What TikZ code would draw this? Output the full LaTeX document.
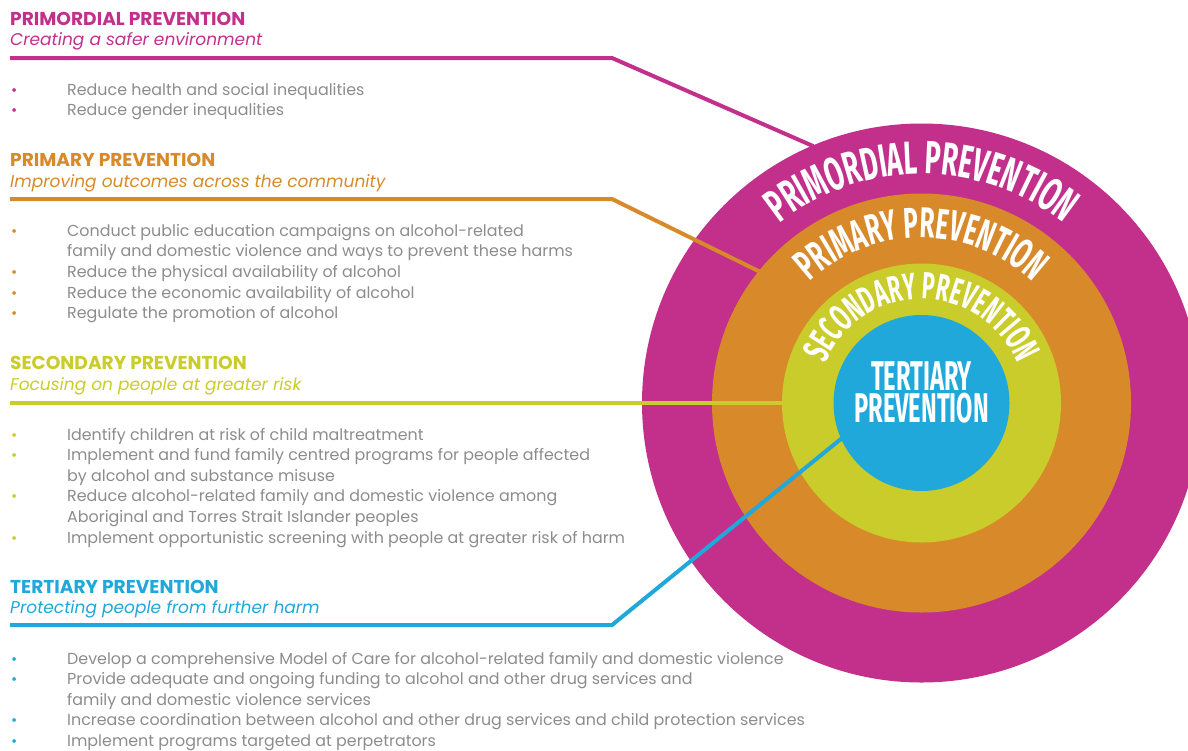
\documentclass[tikz,border=0pt]{standalone}
\usepackage{fontspec}
\setmainfont{Poppins}
\newfontfamily\ringfont[FakeStretch=0.57]{Fira Sans}
\usetikzlibrary{decorations.text, positioning}

\definecolor{primordial}{HTML}{C2308C}
\definecolor{primary}{HTML}{D8892A}
\definecolor{secondary}{HTML}{C9CC2A}
\definecolor{tertiary}{HTML}{1FA8D9}
\definecolor{bodygray}{HTML}{8C8C8C}

\begin{document}
\begin{tikzpicture}[x=1pt, y=1pt,
  ring/.style={circle, inner sep=0pt, outer sep=0pt, minimum size=#1},
  lead/.style={line width=4pt, shorten >=-1pt},
  head/.style={anchor=base west, inner sep=0pt, font=\bfseries\fontsize{18.6}{18.6}\selectfont},
  sub/.style={anchor=base west, inner sep=0pt, font=\itshape\fontsize{17}{17}\selectfont},
  itemtext/.style={anchor=base west, inner sep=0pt, text=bodygray, font=\fontsize{15.9}{15.9}\selectfont},
  itemdot/.style={anchor=base west, inner sep=0pt, font=\fontsize{15}{15}\selectfont},
  arctext/.style={decorate, decoration={text along path, text align=center, text color=white, text={#1}}},
  centretext/.style={anchor=base, inner sep=0pt, text=white, font=\ringfont\bfseries\fontsize{41.5}{41.5}\selectfont}
]
\clip (0,0) rectangle (1188,-750);

% the four rings
\node[ring=559pt, fill=primordial] (c1) at (921.5,-403) {};
\node[ring=419pt, fill=primary]    (c2) at (c1.center) {};
\node[ring=279pt, fill=secondary]  (c3) at (c1.center) {};
\node[ring=176pt, fill=tertiary]   (c4) at (c1.center) {};

\path[arctext={|\ringfont\bfseries\fontsize{46.5}{46.5}\selectfont|PRIMORDIAL PREVENTION}]
  (c1.center) ++(170:229) arc[start angle=170, end angle=10, radius=229];
\path[arctext={|\ringfont\bfseries\fontsize{43}{43}\selectfont|PRIMARY PREVENTION}]
  (c1.center) ++(170:165) arc[start angle=170, end angle=10, radius=165];
\path[arctext={|\ringfont\bfseries\fontsize{37.7}{37.7}\selectfont|SECONDARY PREVENTION}]
  (c1.center) ++(175:104) arc[start angle=175, end angle=5, radius=104];
\node[centretext] (t1) at (921.5,-390) {TERTIARY};
\node[centretext] (t2) at (921.5,-422) {PREVENTION};

% leader lines
\coordinate (m0) at (10,-58);  \coordinate (m1) at (612,-58);
\coordinate (o0) at (10,-199); \coordinate (o1) at (612,-199);
\coordinate (g0) at (10,-403);
\coordinate (b0) at (10,-625); \coordinate (b1) at (612,-625);
\draw[lead, primordial] (m0) -- (m1) -- (c1.113);
\draw[lead, primary] (o0) -- (o1) -- (c2.141.5);
\draw[lead, secondary] (g0) -- (c3.west);
\draw[lead, tertiary] (b0) -- (b1) -- (c4.204.5);

% primordial
\node[head, text=primordial] (h1) at (10,-25) {PRIMORDIAL PREVENTION};
\node[sub, text=primordial]  (s1) at (10,-45) {Creating a safer environment};
\foreach \b/\txt [count=\i] in {1/Reduce health and social inequalities, 1/Reduce gender inequalities}{
  \node[itemtext] (pm\i) at (67,{-95-20.7*(\i-1)}) {\txt};
  \ifnum\b=1 \node[itemdot, text=primordial] (pmb\i) at (11,{-95-20.7*(\i-1)}) {\textbullet};\fi
}

% primary
\node[head, text=primary] (h2) at (10,-166) {PRIMARY PREVENTION};
\node[sub, text=primary]  (s2) at (10,-187) {Improving outcomes across the community};
\foreach \b/\txt [count=\i] in {1/Conduct public education campaigns on alcohol-related,
    0/family and domestic violence and ways to prevent these harms,
    1/Reduce the physical availability of alcohol,
    1/Reduce the economic availability of alcohol,
    1/Regulate the promotion of alcohol}{
  \node[itemtext] (pr\i) at (67,{-236-20.7*(\i-1)}) {\txt};
  \ifnum\b=1 \node[itemdot, text=primary] (prb\i) at (11,{-236-20.7*(\i-1)}) {\textbullet};\fi
}

% secondary
\node[head, text=secondary] (h3) at (10,-369) {SECONDARY PREVENTION};
\node[sub, text=secondary]  (s3) at (10,-390) {Focusing on people at greater risk};
\foreach \b/\txt [count=\i] in {1/Identify children at risk of child maltreatment,
    1/Implement and fund family centred programs for people affected,
    0/by alcohol and substance misuse,
    1/Reduce alcohol-related family and domestic violence among,
    0/Aboriginal and Torres Strait Islander peoples,
    1/Implement opportunistic screening with people at greater risk of harm}{
  \node[itemtext] (se\i) at (67,{-440-20.6*(\i-1)}) {\txt};
  \ifnum\b=1 \node[itemdot, text=secondary] (seb\i) at (11,{-440-20.6*(\i-1)}) {\textbullet};\fi
}

% tertiary
\node[head, text=tertiary] (h4) at (10,-593) {TERTIARY PREVENTION};
\node[sub, text=tertiary]  (s4) at (10,-613) {Protecting people from further harm};
\foreach \b/\txt [count=\i] in {1/Develop a comprehensive Model of Care for alcohol-related family and domestic violence,
    1/Provide adequate and ongoing funding to alcohol and other drug services and,
    0/family and domestic violence services,
    1/Increase coordination between alcohol and other drug services and child protection services,
    1/Implement programs targeted at perpetrators}{
  \node[itemtext] (te\i) at (67,{-664-20.6*(\i-1)}) {\txt};
  \ifnum\b=1 \node[itemdot, text=tertiary] (teb\i) at (11,{-664-20.6*(\i-1)}) {\textbullet};\fi
}
\end{tikzpicture}
\end{document}
